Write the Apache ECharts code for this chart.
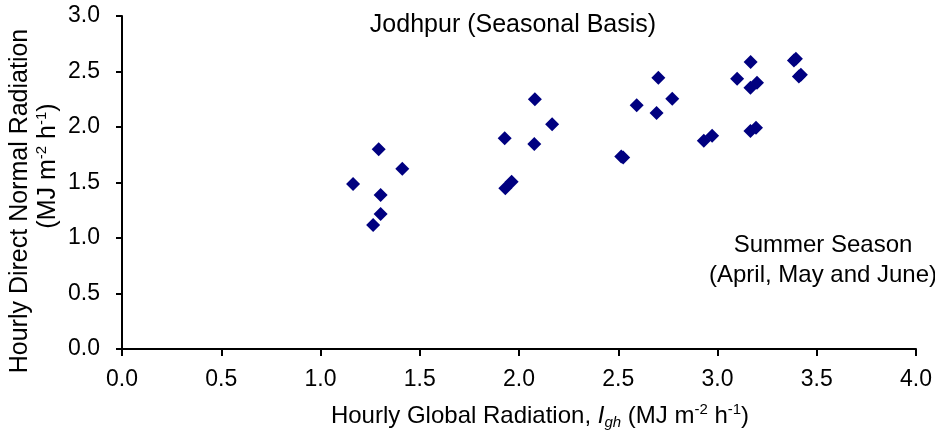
<!DOCTYPE html>
<html><head><meta charset="utf-8">
<script src="https://cdn.jsdelivr.net/npm/echarts@6/dist/echarts.min.js"></script>
<style>html,body{margin:0;padding:0;background:#fff}#c{width:935px;height:439px}</style>
</head><body><div id="c"></div>
<script>
const globalRad = [1.164,1.265,1.303,1.303,1.293,1.412,1.928,1.931,1.963,2.077,2.080,2.167,2.515,2.525,2.593,2.693,2.702,2.772,2.931,2.973,3.099,3.167,3.166,3.199,3.166,3.194,3.385,3.395,3.410,3.420];
const directRad = [1.486,1.117,1.216,1.387,1.800,1.624,1.898,1.448,1.507,1.847,2.250,2.024,1.735,1.725,2.195,2.126,2.444,2.255,1.877,1.922,2.435,2.586,2.354,2.399,1.964,1.994,2.600,2.615,2.455,2.470];
const xTicks = {min:0, max:4, interval:0.5};
const yTicks = {min:0, max:3, interval:0.5};
const titleText = 'Jodhpur (Seasonal Basis)';
const noteLines = ['Summer Season','(April, May and June)'];
const yTitleLines = ['Hourly Direct Normal Radiation','(MJ m{p|-2} h{p|-1})'];

const F = 'Liberation Sans, Arial, Helvetica, sans-serif';
const chart = echarts.init(document.getElementById('c'), null, {renderer:'canvas'});
const supRich = {p:{fontFamily:F, fontSize:15, color:'#000', verticalAlign:'top', lineHeight:28, padding:[0,0,10,0]}};
chart.setOption({
  animation:false,
  backgroundColor:'#fff',
  grid:{left:122, right:19, top:16, bottom:90},
  xAxis:{type:'value', min:xTicks.min, max:xTicks.max, interval:xTicks.interval,
    axisLine:{onZero:false, lineStyle:{color:'#000', width:2}},
    axisTick:{length:7, lineStyle:{color:'#000', width:2}},
    splitLine:{show:false},
    axisLabel:{fontFamily:F, fontSize:23, color:'#000', margin:19, formatter:v=>v.toFixed(1)}
  },
  yAxis:{type:'value', min:yTicks.min, max:yTicks.max, interval:yTicks.interval,
    axisLine:{show:true, onZero:false, lineStyle:{color:'#000', width:2}},
    axisTick:{show:true, length:6, lineStyle:{color:'#000', width:2}},
    splitLine:{show:false},
    axisLabel:{fontFamily:F, fontSize:23, color:'#000', margin:22, formatter:v=>v.toFixed(1)}
  },
  graphic:[
    {type:'text', x:513, y:25, style:{text:titleText, font:'25px '+F, fill:'#000', align:'center', verticalAlign:'middle'}},
    {type:'text', x:823, y:245, style:{text:noteLines[0], font:'24px '+F, fill:'#000', align:'center', verticalAlign:'middle'}},
    {type:'text', x:823, y:275, style:{text:noteLines[1], font:'24px '+F, fill:'#000', align:'center', verticalAlign:'middle'}},
    {type:'text', x:540, y:416, style:{
      text:'{a|Hourly Global Radiation, }{i|I}{s|gh}{a| (MJ m}{p|-2}{a| h}{p|-1}{a|)}',
      align:'center', verticalAlign:'middle',
      rich:{a:{fontFamily:F, fontSize:24, color:'#000', lineHeight:28},
            i:{fontFamily:F, fontSize:24, fontStyle:'italic', color:'#000', lineHeight:28},
            s:{fontFamily:F, fontSize:15, fontStyle:'italic', color:'#000', verticalAlign:'bottom', lineHeight:28, padding:[10,0,0,0]},
            p:supRich.p}}},
    {type:'text', x:20, y:201, rotation:Math.PI/2, style:{text:yTitleLines[0], font:'25px '+F, fill:'#000', align:'center', verticalAlign:'middle'}},
    {type:'text', x:48, y:166, rotation:Math.PI/2, style:{text:'{a|(MJ m}{p|-2}{a| h}{p|-1}{a|)}', align:'center', verticalAlign:'middle',
      rich:{a:{fontFamily:F, fontSize:25, color:'#000', lineHeight:28}, p:supRich.p}}}
  ],
  series:[{type:'scatter', symbol:'diamond', symbolSize:14,
    itemStyle:{color:'#000080', opacity:1},
    data: globalRad.map((x,i)=>[x, directRad[i]])}]
});
</script></body></html>
